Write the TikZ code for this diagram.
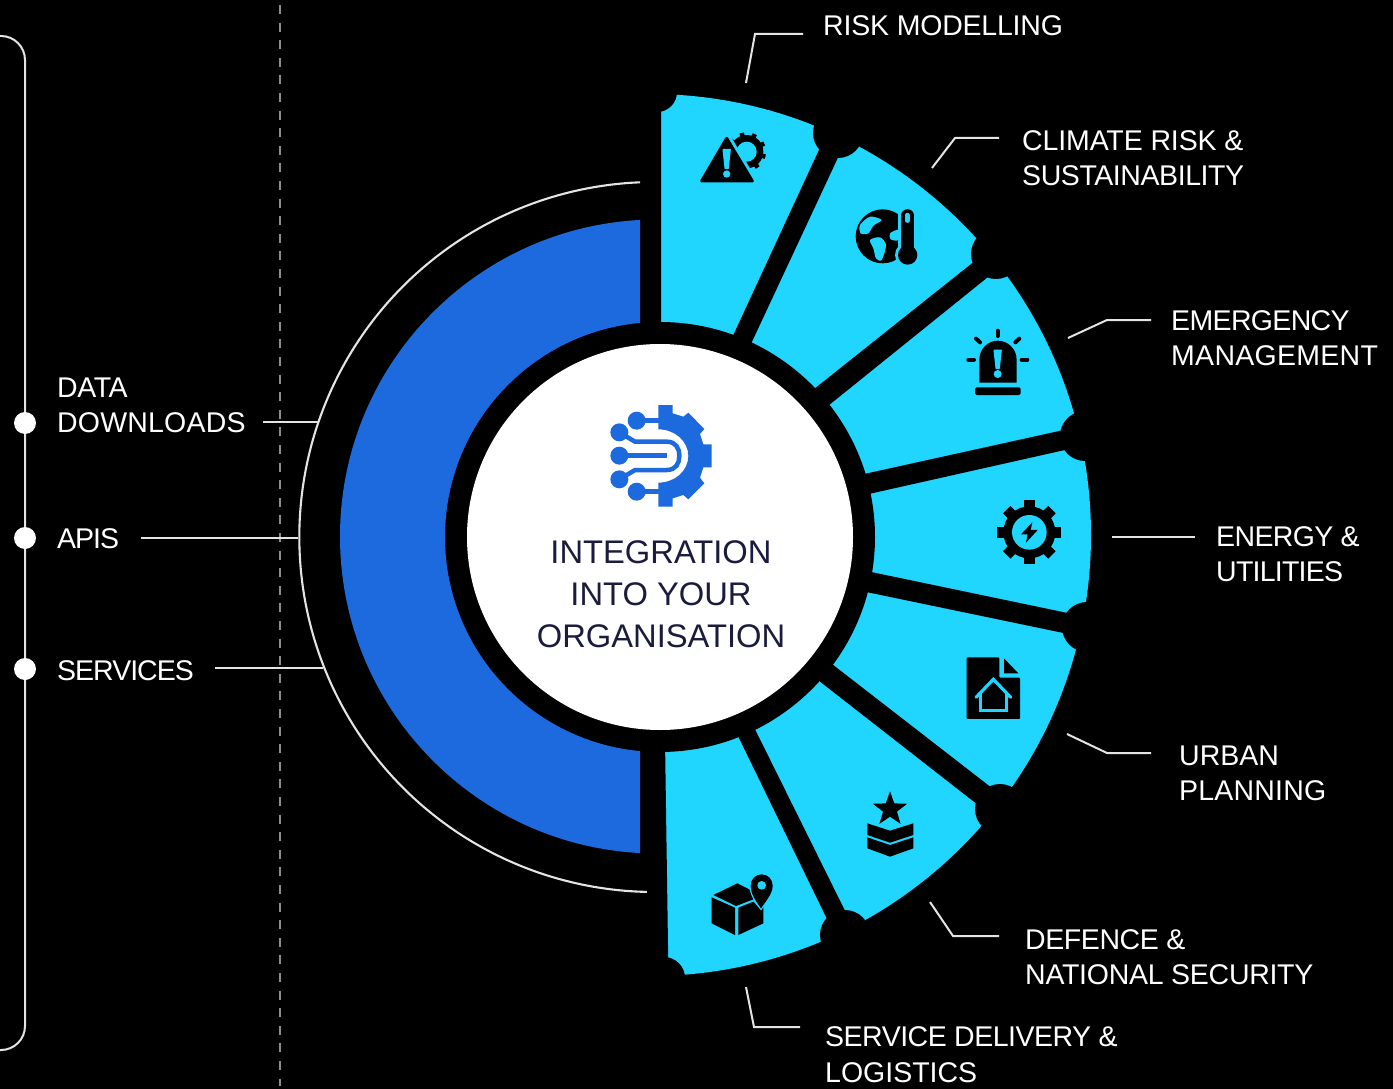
\documentclass[tikz,border=0pt]{standalone}
\usepackage{fontspec}
\setmainfont{Liberation Sans}
\definecolor{cy}{HTML}{20D6FF}
\definecolor{bl}{HTML}{1D6ADE}
\definecolor{navy}{HTML}{1B1B3D}
\definecolor{lineg}{HTML}{E4E4E4}
\newcommand\lsp[2]{{\addfontfeature{LetterSpace=#1}#2}}
\tikzset{
  lab/.style={anchor=north west,inner sep=0pt,align=left,text=white,font=\fontsize{28.5}{35}\selectfont},
  leader/.style={draw=lineg,line width=2pt,line join=miter},
  iconz/.style={scale=0.33333}
}
\begin{document}
\begin{tikzpicture}[x=1pt,y=-1pt]
\useasboundingbox (0,0) rectangle (1393,1089);
\fill[black] (0,0) rectangle (1393,1089);
% cyan fan, cut by black bands and notches
\fill[cy] (650,535) circle[radius=441];
\fill[black] (0,0) -- (661,0) -- (661,537) -- (665,740) -- (668.5,980) -- (668.5,1089) -- (0,1089) -- cycle;
\fill[black] (725,353) -- (743,361) -- (856,119) -- (837,111) -- cycle;
\fill[black] (799,401) -- (813,418) -- (1019,252) -- (1005,237) -- cycle;
\fill[black] (846,478) -- (851,498) -- (1105,441) -- (1100,422) -- cycle;
\fill[black] (852,568) -- (847,588) -- (1102,641) -- (1106,621) -- cycle;
\fill[black] (810,647) -- (800,666) -- (1005,826) -- (1019,809) -- cycle;
\fill[black] (739,697) -- (721,701) -- (845,956) -- (863,947) -- cycle;
\foreach \x/\y/\r in {657/92/20,838/133/25,996/254/25,1085/436/25,1087/627/25,1000/809/25,845/935/25,664/978/21}
  \fill[black] (\x,\y) circle[radius=\r];
\fill[black] (660,537) circle[radius=215];
% blue half ring
\begin{scope}
  \clip (300,200) rectangle (640,880);
  \fill[bl,even odd rule] (657,536.5) circle[radius=317] (660,537) circle[radius=215];
\end{scope}
% white hub
\node[circle,fill=white,minimum size=386pt,inner sep=0pt] (hub) at (660,537) {};
\node[align=center,inner sep=0pt,text=navy,font=\fontsize{32.7}{42}\selectfont,anchor=north] (hubtxt) at (661,540.5) {INTEGRATION\\INTO YOUR\\ORGANISATION};
% white arc
\draw[lineg,line width=2.1pt,variable=\t,domain=91.2:267.7,samples=120,smooth] plot ({654.3+355*cos(\t)},{537+355*sin(\t)});
% dashed line and bracket
\coordinate (dashtop) at (280,5);
\coordinate (dashbot) at (280,1086);
\draw[draw=white!55!black,line width=1.6pt,dash pattern=on 9pt off 8.6pt] (dashtop) -- (dashbot);
\coordinate (bra) at (0,36);
\coordinate (brb) at (25,36);
\coordinate (brc) at (25,1050);
\coordinate (brd) at (0,1050);
\draw[lineg,line width=2pt,rounded corners=24pt] (bra) -- (brb) -- (brc) -- (brd);
\foreach \n/\y in {da/423,db/538,dc/669}
  \node[circle,fill=white,minimum size=22pt,inner sep=0pt] (\n) at (25,\y) {};
% left labels
\node[lab] (tdata) at (57,378) {\lsp{-1.5}{DATA}\\\lsp{0.7}{DOWNLOADS}};
\node[lab] (tapis) at (57,528) {\lsp{-3.5}{APIS}};
\node[lab] (tserv) at (57,660) {\lsp{-3.5}{SERVICES}};
\coordinate (ca1) at (263,421.5); \coordinate (ca2) at (318,421.5);
\coordinate (cb1) at (141,538);   \coordinate (cb2) at (298,538);
\coordinate (cc1) at (215,668);   \coordinate (cc2) at (323,668);
\draw[leader] (ca1) -- (ca2);
\draw[leader] (cb1) -- (cb2);
\draw[leader] (cc1) -- (cc2);
% right labels
\node[lab] (t1) at (823,15) {\lsp{-0.75}{RISK MODELLING}};
\node[lab] (t2) at (1022,130) {\lsp{-0.5}{CLIMATE RISK \&}\\\lsp{-1.5}{SUSTAINABILITY}};
\node[lab] (t3) at (1171,310) {\lsp{-2.3}{EMERGENCY}\\\lsp{1}{MANAGEMENT}};
\node[lab] (t4) at (1216,526) {\lsp{-2.2}{ENERGY \&}\\\lsp{-2.7}{UTILITIES}};
\node[lab] (t5) at (1179,746) {URBAN\\\lsp{0.7}{PLANNING}};
\node[lab] (t6) at (1025,929) {\lsp{-1.5}{DEFENCE \&}\\\lsp{-1}{NATIONAL SECURITY}};
\node[lab,font=\fontsize{28.5}{36.5}\selectfont] (t7) at (825,1026) {\lsp{-1.75}{SERVICE DELIVERY \&}\\LOGISTICS};
\coordinate (l1a) at (746,83);  \coordinate (l1b) at (755,34);  \coordinate (l1c) at (803,34);
\coordinate (l2a) at (932,168); \coordinate (l2b) at (955,138); \coordinate (l2c) at (999,138);
\coordinate (l3a) at (1068,338);\coordinate (l3b) at (1107,320);\coordinate (l3c) at (1151,320);
\coordinate (l4a) at (1112,537);\coordinate (l4c) at (1195,537);
\coordinate (l5a) at (1067,734);\coordinate (l5b) at (1107,753);\coordinate (l5c) at (1151,753);
\coordinate (l6a) at (930,902); \coordinate (l6b) at (953,936); \coordinate (l6c) at (999,936);
\coordinate (l7a) at (746,987); \coordinate (l7b) at (754,1027);\coordinate (l7c) at (800,1027);
\draw[leader] (l1a) -- (l1b) -- (l1c);
\draw[leader] (l2a) -- (l2b) -- (l2c);
\draw[leader] (l3a) -- (l3b) -- (l3c);
\draw[leader] (l4a) -- (l4c);
\draw[leader] (l5a) -- (l5b) -- (l5c);
\draw[leader] (l6a) -- (l6b) -- (l6c);
\draw[leader] (l7a) -- (l7b) -- (l7c);
% icon: hub gear
\begin{scope}[shift={(560,380)},iconz]
  \fill[bl] (295,75) -- (338,75) -- (338,100) -- (370,110) -- (385,98) -- (433,147) -- (420,162) -- (430,193) -- (455,193) -- (455,262) -- (430,262) -- (420,293) -- (433,310) -- (385,358) -- (370,345) -- (338,355) -- (338,380) -- (295,380) -- (295,308) .. controls (345,308) and (385,272) .. (385,228) .. controls (385,184) and (345,148) .. (295,148) -- cycle;
  \draw[bl,line width=4.5pt] (178,157) -- (225,185) -- (320,185) .. controls (348,185) and (358,205) .. (358,228) .. controls (358,250) and (348,270) .. (320,270) -- (225,270) -- (178,298);
  \draw[bl,line width=4.5pt] (178,227) -- (320,227);
  \draw[bl,line width=4.5pt] (230,122) -- (296,122);
  \draw[bl,line width=4.5pt] (230,335) -- (296,335);
  \foreach \x/\y in {178/157,178/227,178/298,230/122,230/335} \fill[bl] (\x,\y) circle[radius=27];
\end{scope}
% icon 1: warning + gear
\begin{scope}[shift={(640,80)},iconz]
  \begin{scope}[shift={(320,215)}]
    \foreach \a in {0,40,...,320} \draw[black,line width=4.5pt] (\a+15:45) -- (\a+15:58);
    \fill[black] (0,0) circle[radius=50];
    \fill[cy] (0,0) circle[radius=30];
  \end{scope}
  \draw[cy,line width=9pt,line join=round,fill=cy] (260,175) -- (185,303) -- (337,303) -- cycle;
  \draw[black,line width=3pt,line join=round,fill=black] (260,175) -- (185,303) -- (337,303) -- cycle;
  \draw[cy,fill=cy,line width=1pt,line join=round] (249,208) -- (271,208) -- (265,265) -- (255,265) -- cycle;
  \fill[cy] (260,282) circle[radius=11];
\end{scope}
% icon 2: globe + thermometer
\begin{scope}[shift={(640,80)},iconz]
  \fill[black] (728,469) circle[radius=81];
  \fill[cy] plot[smooth cycle] coordinates {(660,435) (690,410) (725,420) (700,437) (685,460) (662,460)};
  \fill[cy] plot[smooth cycle] coordinates {(690,480) (720,472) (738,495) (725,540) (708,535) (700,505)};
  \fill[cy] plot[smooth cycle] coordinates {(750,460) (775,450) (775,480) (752,478)};
  \draw[cy,line width=19pt,line cap=round] (803,407) -- (803,525);
  \fill[cy] (803,525) circle[radius=38];
  \draw[black,line width=13pt,line cap=round] (803,407) -- (803,525);
  \fill[black] (803,525) circle[radius=29];
  \draw[cy,line width=4.5pt,line cap=round] (802,405) -- (802,422);
\end{scope}
% icon 3: siren
\begin{scope}[shift={(850,300)},iconz]
  \fill[black] (388,248) -- (388,180) .. controls (388,145) and (415,122) .. (443,122) .. controls (472,122) and (500,145) .. (500,180) -- (500,248) -- cycle;
  \fill[black,rounded corners=1.5pt] (375,262) rectangle (512,285);
  \draw[cy,fill=cy,line width=1pt,line join=round] (432,150) -- (454,150) -- (448,205) -- (438,205) -- cycle;
  \fill[cy] (443,222) circle[radius=12];
  \draw[black,line width=4pt,line cap=round] (443,92) -- (443,108);
  \draw[black,line width=4pt,line cap=round] (378,116) -- (390,127);
  \draw[black,line width=4pt,line cap=round] (508,116) -- (496,127);
  \draw[black,line width=4pt,line cap=round] (355,179) -- (372,179);
  \draw[black,line width=4pt,line cap=round] (515,179) -- (532,179);
\end{scope}
% icon 4: bolt gear
\begin{scope}[shift={(850,300)},iconz]
  \begin{scope}[shift={(538,697)}]
    \foreach \a in {0,45,...,315} \draw[black,line width=10.5pt] (\a:60) -- (\a:96);
    \fill[black] (0,0) circle[radius=78];
    \fill[cy] (0,0) circle[radius=52];
  \end{scope}
  \fill[black] (547,667) -- (513,703) -- (533,703) -- (528,728) -- (563,690) -- (542,690) -- cycle;
\end{scope}
% icon 5: document + house
\begin{scope}[shift={(850,300)},iconz]
  \fill[black,rounded corners=1pt] (350,1072) -- (448,1072) -- (448,1133) -- (510,1133) -- (510,1257) -- (350,1257) -- cycle;
  \fill[black] (462,1075) -- (505,1120) -- (462,1120) -- cycle;
  \draw[cy,line width=3.2pt,line cap=round,line join=miter] (378,1192) -- (430,1138) -- (482,1192);
  \draw[cy,line width=3.2pt,line join=miter] (392,1175) -- (392,1232) -- (470,1232) -- (470,1175);
\end{scope}
% icon 6: star + chevrons
\begin{scope}[shift={(650,760)},iconz]
  \begin{scope}[shift={(720,148)}]
    \fill[black] (270:54) -- (306:22) -- (342:54) -- (18:22) -- (54:54) -- (90:22) -- (126:54) -- (162:22) -- (198:54) -- (234:22) -- cycle;
  \end{scope}
  \fill[black] (652,190) -- (720,212) -- (790,190) -- (790,225) -- (720,248) -- (652,225) -- cycle;
  \fill[black] (652,232) -- (720,255) -- (790,232) -- (790,265) -- (720,290) -- (652,265) -- cycle;
\end{scope}
% icon 7: box + pin
\begin{scope}[shift={(650,760)},iconz]
  \fill[black] (262,370) -- (190,405) -- (258,438) -- (310,418) -- (298,388) -- cycle;
  \fill[black] (185,412) -- (255,443) -- (255,525) -- (185,490) -- cycle;
  \fill[black] (265,443) -- (310,425) -- (330,447) -- (340,442) -- (340,490) -- (265,525) -- cycle;
  \draw[cy,fill=black,line width=2.5pt] (333,445) .. controls (315,420) and (302,400) .. (302,377) .. controls (302,358) and (316,343) .. (335,343) .. controls (354,343) and (368,358) .. (368,377) .. controls (368,400) and (350,420) .. (333,445) -- cycle;
  \fill[black] (333,445) .. controls (315,420) and (302,400) .. (302,377) .. controls (302,358) and (316,343) .. (335,343) .. controls (354,343) and (368,358) .. (368,377) .. controls (368,400) and (350,420) .. (333,445) -- cycle;
  \fill[cy] (335,376) circle[radius=13];
\end{scope}
\end{tikzpicture}
\end{document}
